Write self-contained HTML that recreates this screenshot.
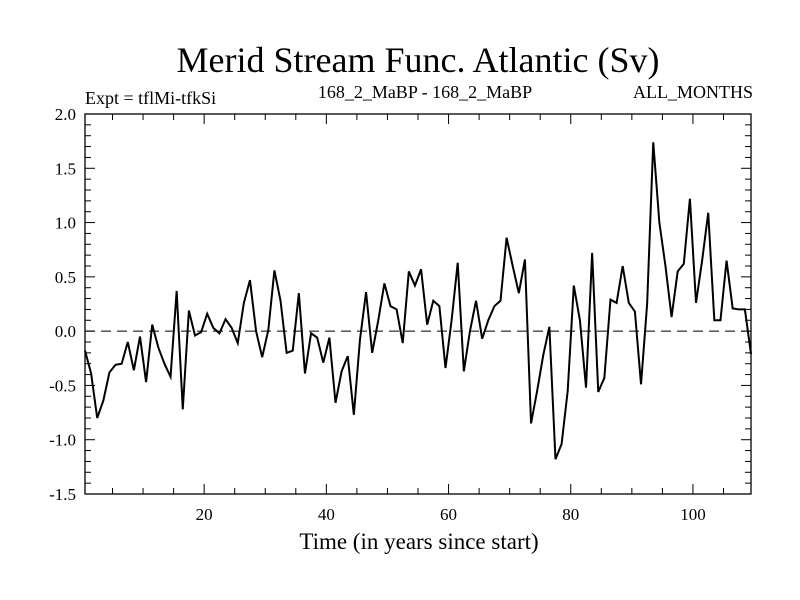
<!DOCTYPE html>
<html><head><meta charset="utf-8"><style>
html,body{margin:0;padding:0;background:#fff;}
svg{display:block;font-family:"Liberation Serif",serif;}
</style></head><body>
<svg id="chart" width="800" height="600" viewBox="0 0 800 600">
<text x="418" y="72" font-size="36" text-anchor="middle">Merid Stream Func. Atlantic (Sv)</text>
<text x="85" y="104" font-size="18">Expt = tflMi-tfkSi</text>
<text x="425" y="98" font-size="18" text-anchor="middle">168_2_MaBP - 168_2_MaBP</text>
<text x="753" y="98" font-size="18" text-anchor="end">ALL_MONTHS</text>
<text x="419" y="549" font-size="23" text-anchor="middle">Time (in years since start)</text>
<g id="axes"></g>
<g id="marks"></g>
</svg>
<script>
const yearStart = 0.5;
const values = [-0.18,-0.39,-0.8,-0.64,-0.38,-0.31,-0.3,-0.1,-0.36,-0.05,-0.47,0.06,-0.15,-0.3,-0.42,0.37,-0.72,0.19,-0.04,-0.01,0.16,0.03,-0.02,0.11,0.03,-0.11,0.26,0.47,0,-0.24,0.01,0.56,0.28,-0.2,-0.18,0.35,
-0.39,-0.02,-0.06,-0.29,-0.06,-0.66,-0.37,-0.23,-0.77,-0.08,0.36,-0.2,0.1,0.44,0.23,0.2,-0.11,0.55,0.42,0.57,0.06,0.28,0.23,-0.34,0.1,0.63,-0.37,0,0.28,-0.07,0.1,0.23,0.28,
0.86,0.6,0.35,0.66,-0.85,-0.55,-0.22,0.04,-1.18,-1.04,-0.55,0.42,0.1,-0.52,0.72,-0.56,-0.43,0.29,0.26,0.6,0.26,0.18,-0.49,0.25,1.74,1.0,0.6,0.13,0.55,0.62,1.22,0.26,0.65,1.09,0.1,0.1,0.65,0.21,0.2,0.2,-0.21];
const xTicks = [20,40,60,80,100];
const yTicks = [-1.5,-1.0,-0.5,0.0,0.5,1.0,1.5,2.0];
const xDomain = [0.5,109.5];
const yDomain = [-1.5,2.0];
const L=85,R=751,T=114,B=494;
const NS="http://www.w3.org/2000/svg";
function xs(v){return L+(v-xDomain[0])/(xDomain[1]-xDomain[0])*(R-L);}
function ys(v){return B-(v-yDomain[0])/(yDomain[1]-yDomain[0])*(B-T);}
function mk(tag,attrs,parent){const e=document.createElementNS(NS,tag);for(const k in attrs)e.setAttribute(k,attrs[k]);parent.appendChild(e);return e;}
const axes=document.getElementById('axes'), marks=document.getElementById('marks');
const frame=mk('rect',{x:L,y:T,width:R-L,height:B-T,fill:'none',stroke:'#000','stroke-width':1.3},axes);


for(let k=0;k<=35;k++){const v=yDomain[0]+k*0.1;const y=ys(v);const len=(k%5===0)?10:6;
 mk('line',{x1:L,y1:y,x2:L+len,y2:y,stroke:'#000','stroke-width':1},axes);
 mk('line',{x1:R,y1:y,x2:R-len,y2:y,stroke:'#000','stroke-width':1},axes);}
yTicks.forEach(v=>{const t=mk('text',{x:L-9,y:ys(v)+6,'font-size':17,'text-anchor':'end'},axes);t.textContent=v.toFixed(1);
 
 });
for(let v=5;v<110;v+=5){const x=xs(v);const len=(v%20===0)?10:6;
 mk('line',{x1:x,y1:B,x2:x,y2:B-len,stroke:'#000','stroke-width':1},axes);
 mk('line',{x1:x,y1:T,x2:x,y2:T+len,stroke:'#000','stroke-width':1},axes);}
xTicks.forEach(v=>{const t=mk('text',{x:xs(v),y:B+26,'font-size':17,'text-anchor':'middle'},axes);t.textContent=v;
 
 });
const zl=mk('line',{x1:L,y1:ys(0),x2:R,y2:ys(0),stroke:'#000','stroke-width':1,'stroke-dasharray':'10,6'},marks);


const pts=values.map((v,i)=>xs(yearStart+i).toFixed(2)+','+ys(v).toFixed(2)).join(' ');
const pl=mk('polyline',{points:pts,fill:'none',stroke:'#000','stroke-width':2,'stroke-linejoin':'miter'},marks);


</script>
</body></html>
